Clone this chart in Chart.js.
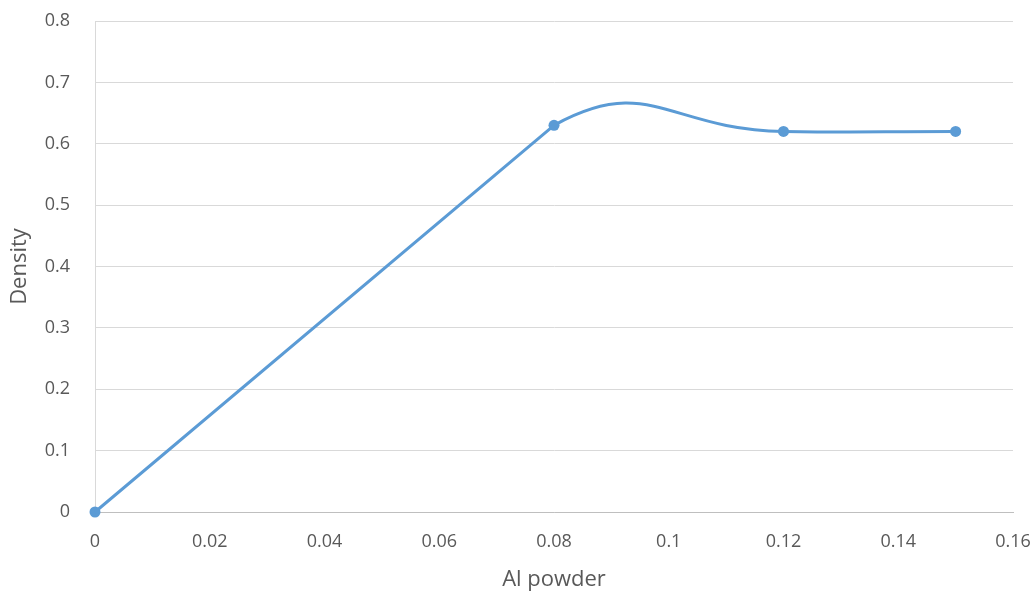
<!DOCTYPE html>
<html>
<head>
<meta charset="utf-8">
<script src="https://cdn.jsdelivr.net/npm/chart.js@4/dist/chart.umd.min.js"></script>
<style>
html,body{margin:0;padding:0;background:#fff;}
#wrap{width:1036px;height:593px;}
</style>
</head>
<body>
<div id="wrap"><canvas id="c" width="1036" height="593"></canvas></div>
<script>
const alPowder = [0, 0.08, 0.12, 0.15];
const density = [0, 0.63, 0.62, 0.62];
const xTicks = [0, 0.02, 0.04, 0.06, 0.08, 0.1, 0.12, 0.14, 0.16];
const yTicks = [0, 0.1, 0.2, 0.3, 0.4, 0.5, 0.6, 0.7, 0.8];

const points = alPowder.map((x, i) => ({x: x, y: density[i]}));
const FONT = "'Open Sans', 'Liberation Sans', sans-serif";
const lineColor = '#5b9bd5';

new Chart(document.getElementById('c'), {
  type: 'scatter',
  data: {
    datasets: [{
      // first (almost straight) stretch of the smoothed curve
      data: points.slice(0, 2),
      showLine: true,
      borderColor: lineColor,
      backgroundColor: lineColor,
      borderWidth: 3,
      pointRadius: 0,
      tension: 0,
      clip: false
    }, {
      data: points,
      showLine: true,
      borderColor: lineColor,
      backgroundColor: lineColor,
      borderWidth: 3,
      pointRadius: 5.5,
      pointBorderWidth: 0,
      tension: 0.5,
      clip: false,
      segment: {
        borderColor: ctx => ctx.p0DataIndex === 0 ? 'rgba(0,0,0,0)' : undefined
      }
    }]
  },
  options: {
    responsive: false,
    animation: false,
    devicePixelRatio: 1,
    layout: {padding: {top: 21, right: 23, left: 0, bottom: 0}},
    plugins: {legend: {display: false}, tooltip: {enabled: false}},
    scales: {
      x: {
        type: 'linear',
        min: 0, max: 0.16,
        afterBuildTicks: s => { s.ticks = xTicks.map(v => ({value: v})); },
        afterFit: s => { s.height = 81; s.paddingLeft = 0; s.paddingRight = 0; },
        grid: {display: false, drawTicks: false},
        border: {display: true, color: '#bfbfbf', width: 1},
        ticks: {
          color: '#595959', font: {family: FONT, size: 18}, padding: 19,
          maxRotation: 0,
          callback: v => String(+v.toFixed(2))
        },
        title: {display: true, text: 'Al powder', color: '#595959',
          font: {family: FONT, size: 22}, padding: {top: 0, bottom: 0}}
      },
      y: {
        type: 'linear',
        min: 0, max: 0.8,
        afterBuildTicks: s => { s.ticks = yTicks.map(v => ({value: v})); },
        afterFit: s => { s.width = 95; s.paddingTop = 0; s.paddingBottom = 0; },
        grid: {color: '#d9d9d9', drawTicks: false, lineWidth: 1},
        border: {display: true, color: '#d9d9d9', width: 1},
        ticks: {
          color: '#595959', font: {family: FONT, size: 18}, padding: 25,
          callback: v => String(+v.toFixed(1))
        },
        title: {display: true, text: 'Density', color: '#595959',
          font: {family: FONT, size: 22}, padding: {top: 7, bottom: 0}}
      }
    }
  }
});
</script>
</body>
</html>
